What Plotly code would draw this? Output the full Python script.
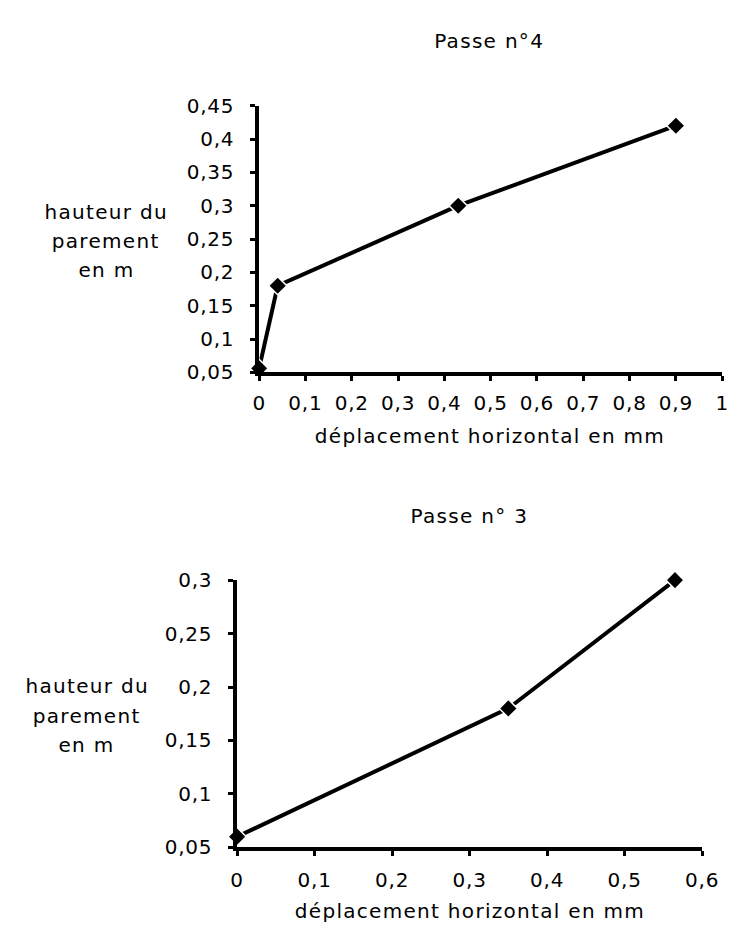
import plotly.graph_objects as go

# ---- data ----
top_x = [0.0, 0.04, 0.43, 0.90]
top_y = [0.056, 0.18, 0.30, 0.42]
bot_x = [0.0, 0.35, 0.565]
bot_y = [0.06, 0.18, 0.30]

top_xticks = [0, 0.1, 0.2, 0.3, 0.4, 0.5, 0.6, 0.7, 0.8, 0.9, 1.0]
top_xtext = ["0", "0,1", "0,2", "0,3", "0,4", "0,5", "0,6", "0,7", "0,8", "0,9", "1"]
top_yticks = [0.05, 0.1, 0.15, 0.2, 0.25, 0.3, 0.35, 0.4, 0.45]
top_ytext = ["0,05", "0,1", "0,15", "0,2", "0,25", "0,3", "0,35", "0,4", "0,45"]
bot_xticks = [0, 0.1, 0.2, 0.3, 0.4, 0.5, 0.6]
bot_xtext = ["0", "0,1", "0,2", "0,3", "0,4", "0,5", "0,6"]
bot_yticks = [0.05, 0.1, 0.15, 0.2, 0.25, 0.3]
bot_ytext = ["0,05", "0,1", "0,15", "0,2", "0,25", "0,3"]

title_top = "Passe n°4"
title_bot = "Passe n° 3"
ytitle_lines = ["hauteur du", "parement", "en m"]
xtitle = "déplacement horizontal en mm"

W, H = 736, 929
FONT = "DejaVu Sans"
FS = 20


def px_x(p):
    return p / W


def px_y(p):
    return 1 - p / H


fig = go.Figure()
line_style = dict(color="black", width=4)
marker_style = dict(symbol="diamond", size=14, color="black",
                    line=dict(color="white", width=1.5))

fig.add_trace(go.Scatter(x=top_x, y=top_y, mode="lines+markers",
                         line=line_style, marker=marker_style,
                         cliponaxis=False, xaxis="x", yaxis="y",
                         showlegend=False))
fig.add_trace(go.Scatter(x=bot_x, y=bot_y, mode="lines+markers",
                         line=line_style, marker=marker_style,
                         cliponaxis=False, xaxis="x2", yaxis="y2",
                         showlegend=False))

tick_font = dict(family=FONT, size=FS, color="black")
axis_common = dict(showline=True, linecolor="black", linewidth=3.5,
                   ticks="outside", ticklen=5, tickwidth=2.5,
                   tickcolor="black", showgrid=False, zeroline=False,
                   tickfont=tick_font, fixedrange=True)
# overlay axes that draw the inner half of the crossing tick marks
inner_common = dict(showline=False, ticks="inside", ticklen=5,
                    tickwidth=2.5, tickcolor="black", showgrid=False,
                    zeroline=False, showticklabels=False, fixedrange=True)

x1_dom = [px_x(252.7), px_x(730)]
y1_dom = [px_y(361.7), px_y(88)]
x2_dom = [px_x(230), px_x(709.3)]
y2_dom = [px_y(849.3), px_y(575)]

fig.update_layout(
    width=W, height=H, autosize=False,
    margin=dict(l=0, r=0, t=0, b=0),
    paper_bgcolor="white", plot_bgcolor="white",
    xaxis=dict(domain=x1_dom, range=[0, 1],
               tickvals=top_xticks, ticktext=top_xtext, anchor="y",
               ticklabelstandoff=5, **axis_common),
    yaxis=dict(domain=y1_dom, range=[0.05, 0.45],
               tickvals=top_yticks, ticktext=top_ytext, anchor="x",
               ticklabelstandoff=12, **axis_common),
    xaxis2=dict(domain=x2_dom, range=[0, 0.6],
                tickvals=bot_xticks, ticktext=bot_xtext, anchor="y2",
                ticklabelstandoff=7, **axis_common),
    yaxis2=dict(domain=y2_dom, range=[0.05, 0.3],
                tickvals=bot_yticks, ticktext=bot_ytext, anchor="x2",
                ticklabelstandoff=12, **axis_common),
    xaxis3=dict(domain=x1_dom, range=[0, 1], tickvals=top_xticks,
                anchor="y", overlaying="x", **inner_common),
    yaxis3=dict(domain=y1_dom, range=[0.05, 0.45], tickvals=top_yticks,
                anchor="x", overlaying="y", **inner_common),
    xaxis4=dict(domain=x2_dom, range=[0, 0.6], tickvals=bot_xticks,
                anchor="y2", overlaying="x2", **inner_common),
    yaxis4=dict(domain=y2_dom, range=[0.05, 0.3], tickvals=bot_yticks,
                anchor="x2", overlaying="y2", **inner_common),
)

annos = []


def add_text(text, x, y):
    annos.append(dict(text=text, x=px_x(x), y=px_y(y), xref="paper",
                      yref="paper", showarrow=False, xanchor="center",
                      yanchor="middle",
                      font=dict(family=FONT, size=FS, color="black")))


add_text(title_top, 490, 22)
add_text(title_bot, 470, 509)
add_text(xtitle, 491, 427)
add_text(xtitle, 470, 915)
for i, t in enumerate(ytitle_lines):
    add_text(t, 95, 197 + i * 30)
    add_text(t, 75, 684 + i * 30)

fig.update_layout(annotations=annos)

# the original typewriter-like lettering is slightly spaced out
spacing_js = """
var gd = document.querySelector('.plotly-graph-div');
function spaceText(){
  gd.querySelectorAll('.annotation-text').forEach(function(t){
    t.style.letterSpacing = '1.3px';
  });
  gd.querySelectorAll('.xtick text, .ytick text, .x2tick text, .y2tick text').forEach(function(t){
    t.style.letterSpacing = '0.8px';
  });
}
spaceText();
gd.on('plotly_afterplot', spaceText);
"""
fig.write_html("out.html", post_script=spacing_js)
